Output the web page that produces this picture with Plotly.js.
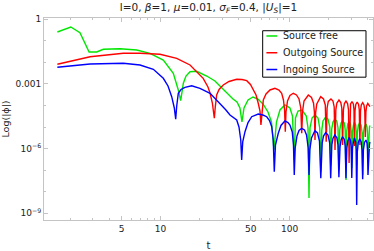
<!DOCTYPE html>
<html><head><meta charset="utf-8">
<script src="https://cdn.plot.ly/plotly-3.0.1.min.js"></script>
<style>html,body{margin:0;padding:0;background:#fff}</style>
</head><body><div id="chart" style="width:374px;height:251px"></div>
<script>
// Source free (green)
const tFree = [1.59,2.02,2.38,2.80,3.21,3.61,4.86,6.54,8.29,10.51,12.56,13.73,14.33,15.02,15.75,16.92,19.05,22.79,26.4,29.9,33.3,36.4,39.1,41.2,42.7,44.3,47.6,52.0,56.8,62.1,67.9,72.3,75.6,79.0,84.1,91.9,100.5,105.1,108.5,110.9,116.0,124.6,134.4,138.6,141.1,143.6,148.9,157.0,165.7,170.8,174.1,177.3,181.1,190.0,198.0,204.4,207.7,211.5,216.4,223.5,231.6,236.6,240.4,244.3,250.0,256.3,264.7,269.0,272.8,276.8,281.7,288.8,295.6,299.3,302.5,306.3,311.8,317.4,324.3,327.2,330.1,333.7,339.7,348.2,357.7,362.8,367.4,372.0,379.4,389.6,396.7,400.2,403.8,408.1,414.7,418.4];
const vFree = [0.258,0.44,0.239,0.0304,0.0304,0.0406,0.0433,0.0377,0.0265,0.0129,3.13e-3,5.26e-4,1.68e-4,1.08e-3,2.34e-3,3.7e-3,3.87e-3,2.34e-3,1.37e-3,6.51e-4,3.08e-4,2.01e-4,1.46e-4,7.7e-5,1.72e-5,7.7e-5,1.807e-4,2.49e-4,2.01e-4,1.18e-4,5.02e-5,1.72e-5,8.67e-7,1.72e-5,6.21e-5,1.06e-4,7.7e-5,3.27e-5,2.98e-7,2.64e-5,5.58e-5,6.21e-5,3.27e-5,9.09e-6,5.15e-9,9.09e-6,2.64e-5,3.64e-5,2.64e-5,9.09e-6,8.27e-8,7.34e-6,1.92e-5,2.94e-5,2.37e-5,1.01e-5,1.75e-7,8.17e-6,1.72e-5,2.37e-5,1.92e-5,9.09e-6,1.024e-7,7.34e-6,1.55e-5,2.02e-5,1.55e-5,7.34e-6,3.52e-8,6.6e-6,1.39e-5,1.82e-5,1.39e-5,6.6e-6,1.27e-7,5.93e-6,1.25e-5,1.72e-5,1.25e-5,5.93e-6,1.75e-7,5.33e-6,1.12e-5,1.63e-5,1.19e-5,5.93e-6,6.0e-8,5.33e-6,1.07e-5,1.39e-5,1.01e-5,5.33e-6,2.98e-7,4.79e-6,1.01e-5,1.19e-5];
// Outgoing Source (red)
const tOut = [1.59,2.85,5.15,6.94,9.91,13.35,16.92,21.4,23.3,24.2,25.2,25.7,26.1,26.5,27.2,28.4,30.6,33.9,38.9,42.7,46.5,49.7,52.3,54.9,57.1,58.9,59.9,61.0,62.5,65.6,70.4,76.9,82.6,86.7,89.5,91.3,92.5,93.6,96.2,100.5,106.6,112.9,118.1,121.9,123.9,125.9,129.1,139.4,147.5,152.9,155.4,157.0,158.7,162.1,173.8,182.7,188.7,191.7,194.8,199.0,208.8,216.4,221.1,224.3,227.5,232.0,240.8,248.7,253.2,256.8,260.5,265.2,272.8,280.7,285.3,288.3,291.9,296.1,303.6,311.3,314.6,316.9,320.3,324.9,333.1,341.5,345.8,349.5,353.3,358.4,367.4,376.0,381.4,384.8,389.0,393.9,402.4,411.1,418.4];
const vOut = [8.18e-3,0.0184,0.0265,0.0265,0.0238,0.0155,7.6e-3,1.83e-3,7.24e-4,3.7e-4,1.31e-4,6.21e-5,2.56e-5,7.7e-5,3.08e-4,5.55e-4,8.97e-4,1.30e-3,1.65e-3,1.61e-3,1.42e-3,9.46e-4,5.26e-4,3.08e-4,1.27e-4,5.58e-5,1.25e-5,5.58e-5,1.81e-4,3.43e-4,5.26e-4,6.3e-4,5.26e-4,3.7e-4,1.81e-4,6.21e-5,6.1e-6,5.02e-5,1.62e-4,2.92e-4,3.7e-4,3.08e-4,2.01e-4,7.7e-5,5.2e-6,5.58e-5,1.62e-4,3.08e-4,2.36e-4,1.31e-4,5.02e-5,2.52e-6,4.51e-5,1.18e-4,2.57e-4,2.01e-4,1.06e-4,2.1e-6,7.7e-5,1.54e-4,2.01e-4,1.62e-4,8.56e-5,8.67e-7,6.21e-5,1.31e-4,1.807e-4,1.38e-4,7.7e-5,1.48e-6,6.21e-5,1.24e-4,1.62e-4,1.24e-4,6.21e-5,2.16e-7,5.58e-5,1.18e-4,1.54e-4,1.18e-4,6.21e-5,1.33e-6,5.58e-5,1.12e-4,1.46e-4,1.12e-4,6.21e-5,1.48e-6,5.58e-5,1.06e-4,1.35e-4,1.06e-4,5.58e-5,3.47e-6,5.02e-5,9.52e-5,1.24e-4,1.06e-4,8.8e-5];
// Ingoing Source (blue)
const tIn = [1.59,2.85,5.15,6.94,8.80,10.51,11.43,12.21,12.79,13.11,13.35,13.73,14.41,15.47,17.44,20.2,24.2,28.9,32.1,34.5,36.7,38.9,40.5,41.8,42.5,43.3,45.1,47.6,50.8,57.1,62.1,66.4,69.8,72.6,74.6,76.0,77.6,81.6,85.6,91.9,97.0,100.5,104.7,107.0,108.5,110.3,113.9,118.1,123.9,130.2,135.0,139.1,141.1,143.1,147.5,156.8,164.2,170.1,174.1,178.5,182.7,190.0,198.0,204.1,207.7,211.9,216.4,223.5,231.6,236.6,240.4,245.2,250.0,256.3,264.7,269.0,272.8,276.8,281.7,288.8,295.6,299.3,302.5,306.3,311.8,317.4,324.3,327.2,330.1,333.7,339.7,348.2,357.7,362.8,367.4,372.0,379.4,389.6,396.7,400.2,403.8,408.1,414.7,418.4];
const vIn = [5.94e-3,8.45e-3,9.1e-3,7.6e-3,4.8e-3,1.83e-3,8.05e-4,2.57e-4,7.7e-5,2.3e-5,9.5e-5,3.7e-4,5.55e-4,7.0e-4,8.3e-4,6.3e-4,3.7e-4,1.27e-4,6.21e-5,3.64e-5,2.64e-5,2.13e-5,1.01e-5,2.52e-6,3.0e-7,2.04e-6,6.1e-6,1.63e-5,3.03e-5,4.05e-5,3.64e-5,3.03e-5,2.02e-5,1.04e-5,2.52e-6,8.5e-8,1.48e-6,5.15e-6,1.19e-5,1.92e-5,1.63e-5,1.25e-5,5.93e-6,1.48e-6,6.0e-8,1.07e-6,3.86e-6,6.96e-6,8.8e-6,7.34e-6,4.3e-6,1.07e-6,6.0e-8,8.67e-7,3.12e-6,6.81e-6,5.33e-6,2.26e-6,4.22e-8,1.83e-6,3.86e-6,5.5e-6,4.3e-6,1.83e-6,4.22e-8,1.48e-6,2.96e-6,4.3e-6,3.29e-6,1.48e-6,4.7e-8,1.19e-6,2.52e-6,3.58e-6,2.66e-6,1.33e-6,4.22e-8,1.07e-6,2.26e-6,3.29e-6,2.39e-6,1.19e-6,4.36e-8,1.07e-6,2.15e-6,3.12e-6,2.04e-6,8.67e-7,2.44e-9,7.0e-7,1.93e-6,2.9e-6,2.04e-6,8.67e-7,3.8e-8,8.67e-7,1.93e-6,2.52e-6,1.83e-6,8.67e-7,6.0e-8,7.0e-7,1.64e-6,2.04e-6];

const seriesNames = ['Source free','Outgoing Source','Ingoing Source'];
const seriesColors = ['#00e600','#ff0000','#0000ff'];
const xTickVals = [5,10,50,100];
const xTickText = ['5','10','50','100'];
const xMinorVals = [2,3,4,6,7,8,9,20,30,40,60,70,80,90,200,300,400];
const yTickVals = [1,1e-3,1e-6,1e-9];
const yTickText = ['1','0.001','10<sup>−6</sup>','10<sup>−9</sup>'];
const yMinorVals = [1e-1,1e-2,1e-4,1e-5,1e-7,1e-8];

const xs=[tFree,tOut,tIn], ys=[vFree,vOut,vIn];
const traces = xs.map((x,i)=>({x:x,y:ys[i],type:'scatter',mode:'lines',name:seriesNames[i],
  line:{color:seriesColors[i],width:1.4},showlegend:false}));

// legend drawn as a framed box with sample lines and labels
const legY = [0.911,0.828,0.745];
const shapes = [{type:'rect',xref:'paper',yref:'paper',x0:0.6647,x1:0.9787,y0:0.707,y1:0.937,
  line:{color:'#000',width:1},fillcolor:'#fff',layer:'above'}];
const annotations = [];
seriesNames.forEach((n,i)=>{
  shapes.push({type:'line',xref:'paper',yref:'paper',x0:0.676,x1:0.709,y0:legY[i],y1:legY[i],
    line:{color:seriesColors[i],width:1.5},layer:'above'});
  annotations.push({text:n,xref:'paper',yref:'paper',x:0.72,y:legY[i],xanchor:'left',yanchor:'middle',
    showarrow:false,font:{family:'DejaVu Sans',size:9.6,color:'#222'}});
});

const axisCommon = {showline:true,linecolor:'#c4c4c4',linewidth:1,mirror:'allticks',ticks:'inside',
  ticklen:4,tickcolor:'#c4c4c4',tickwidth:1,showgrid:false,zeroline:false,
  tickfont:{family:'DejaVu Sans',size:9,color:'#222'},tickmode:'array'};
const layout = {
  width:374,height:251,margin:{l:44,r:1,t:18,b:31},paper_bgcolor:'#fff',plot_bgcolor:'#fff',
  title:{text:'l=0, <i>β</i>=1, <i>μ</i>=0.01, <i>σ</i><sub><i>F</i></sub>=0.4, |<i>U</i><sub><i>S</i></sub>|=1',
    font:{family:'DejaVu Sans',size:10.5,color:'#222'},x:0.5,xref:'paper',y:0.972,yref:'container',yanchor:'middle'},
  xaxis:Object.assign({},axisCommon,{type:'log',range:[0.098,2.645],tickvals:xTickVals,ticktext:xTickText,
    minor:{tickvals:xMinorVals,ticklen:2,tickcolor:'#c4c4c4',ticks:'inside'},
    title:{text:'t',font:{family:'DejaVu Sans',size:10,color:'#222'},standoff:9}}),
  yaxis:Object.assign({},axisCommon,{type:'log',range:[-9.31,0.06],tickvals:yTickVals,ticktext:yTickText,
    minor:{tickvals:yMinorVals,ticklen:2,tickcolor:'#c4c4c4',ticks:'inside'},
    title:{text:'Log(|ϕ|)',font:{family:'DejaVu Sans',size:9.5,color:'#222'},standoff:4}}),
  shapes:shapes, annotations:annotations
};
Plotly.newPlot('chart',traces,layout,{staticPlot:true,displayModeBar:false});
</script></body></html>
